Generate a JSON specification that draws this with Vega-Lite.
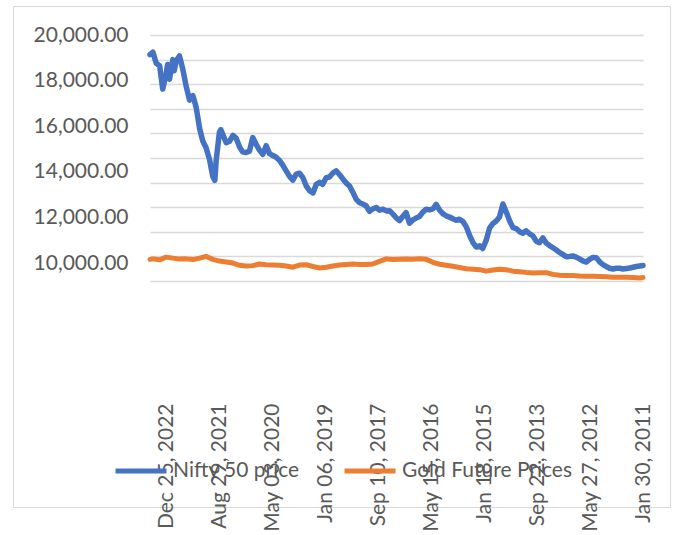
{
  "$schema": "https://vega.github.io/schema/vega-lite/v6.json",
  "width": 657,
  "height": 501,
  "autosize": "none",
  "padding": {"left": 13, "top": 6, "right": 7, "bottom": 28},
  "background": "white",
  "config": {
    "view": {"stroke": "#d9d9d9", "strokeWidth": 1},
    "font": "Lato"
  },
  "datasets": {
    "nifty": [
      {"date": "2023-05-28", "price": 19200}, {"date": "2023-05-01", "price": 19300}, {"date": "2023-04-01", "price": 18850},
      {"date": "2023-03-01", "price": 18750}, {"date": "2023-02-01", "price": 17800}, {"date": "2023-01-01", "price": 18400},
      {"date": "2022-12-18", "price": 18800}, {"date": "2022-12-01", "price": 18200}, {"date": "2022-11-01", "price": 19000},
      {"date": "2022-10-19", "price": 18550}, {"date": "2022-10-01", "price": 18950}, {"date": "2022-09-01", "price": 19150},
      {"date": "2022-08-01", "price": 18600}, {"date": "2022-07-01", "price": 17900}, {"date": "2022-06-01", "price": 17350},
      {"date": "2022-05-01", "price": 17530}, {"date": "2022-04-01", "price": 17050}, {"date": "2022-03-01", "price": 16200},
      {"date": "2022-02-01", "price": 15700}, {"date": "2022-01-01", "price": 15420}, {"date": "2021-12-01", "price": 14950},
      {"date": "2021-11-01", "price": 14250}, {"date": "2021-10-13", "price": 14090}, {"date": "2021-10-01", "price": 14900},
      {"date": "2021-09-01", "price": 16050}, {"date": "2021-08-19", "price": 16150}, {"date": "2021-08-01", "price": 15950},
      {"date": "2021-07-01", "price": 15620}, {"date": "2021-06-01", "price": 15680}, {"date": "2021-05-01", "price": 15920},
      {"date": "2021-04-01", "price": 15800}, {"date": "2021-03-01", "price": 15450}, {"date": "2021-02-01", "price": 15250},
      {"date": "2021-01-01", "price": 15220}, {"date": "2020-12-01", "price": 15280}, {"date": "2020-11-01", "price": 15830},
      {"date": "2020-10-01", "price": 15560}, {"date": "2020-09-01", "price": 15320}, {"date": "2020-08-01", "price": 15150},
      {"date": "2020-07-01", "price": 15500}, {"date": "2020-06-01", "price": 15180}, {"date": "2020-05-01", "price": 15100},
      {"date": "2020-04-01", "price": 15030}, {"date": "2020-03-01", "price": 14900}, {"date": "2020-02-01", "price": 14710},
      {"date": "2020-01-01", "price": 14480}, {"date": "2019-12-01", "price": 14250}, {"date": "2019-11-01", "price": 14100},
      {"date": "2019-10-01", "price": 14340}, {"date": "2019-09-01", "price": 14380}, {"date": "2019-08-01", "price": 14200},
      {"date": "2019-07-01", "price": 13860}, {"date": "2019-06-01", "price": 13670}, {"date": "2019-05-01", "price": 13580},
      {"date": "2019-04-01", "price": 13930}, {"date": "2019-03-01", "price": 14010}, {"date": "2019-02-01", "price": 13930},
      {"date": "2019-01-01", "price": 14200}, {"date": "2018-12-01", "price": 14230}, {"date": "2018-11-01", "price": 14390},
      {"date": "2018-10-01", "price": 14480}, {"date": "2018-09-01", "price": 14330}, {"date": "2018-08-01", "price": 14150},
      {"date": "2018-07-01", "price": 13980}, {"date": "2018-06-01", "price": 13860}, {"date": "2018-05-01", "price": 13600},
      {"date": "2018-04-01", "price": 13320}, {"date": "2018-03-01", "price": 13180}, {"date": "2018-02-01", "price": 13130},
      {"date": "2018-01-01", "price": 13060}, {"date": "2017-12-01", "price": 12830}, {"date": "2017-11-01", "price": 12930},
      {"date": "2017-10-01", "price": 12990}, {"date": "2017-09-01", "price": 12880}, {"date": "2017-08-01", "price": 12920},
      {"date": "2017-07-01", "price": 12850}, {"date": "2017-06-01", "price": 12860}, {"date": "2017-05-01", "price": 12720},
      {"date": "2017-04-01", "price": 12570}, {"date": "2017-03-01", "price": 12460}, {"date": "2017-02-01", "price": 12620},
      {"date": "2017-01-01", "price": 12780}, {"date": "2016-12-01", "price": 12350}, {"date": "2016-11-01", "price": 12480},
      {"date": "2016-10-01", "price": 12560}, {"date": "2016-09-01", "price": 12620}, {"date": "2016-08-01", "price": 12800},
      {"date": "2016-07-01", "price": 12920}, {"date": "2016-06-01", "price": 12890}, {"date": "2016-05-01", "price": 12930},
      {"date": "2016-04-01", "price": 13110}, {"date": "2016-03-01", "price": 12880}, {"date": "2016-02-01", "price": 12740},
      {"date": "2016-01-01", "price": 12650}, {"date": "2015-12-01", "price": 12600}, {"date": "2015-11-01", "price": 12530},
      {"date": "2015-10-01", "price": 12470}, {"date": "2015-09-01", "price": 12510}, {"date": "2015-08-01", "price": 12420},
      {"date": "2015-07-01", "price": 12200}, {"date": "2015-06-01", "price": 11850}, {"date": "2015-05-01", "price": 11560},
      {"date": "2015-04-01", "price": 11380}, {"date": "2015-03-01", "price": 11430}, {"date": "2015-02-01", "price": 11320},
      {"date": "2015-01-01", "price": 11650}, {"date": "2014-12-01", "price": 12150}, {"date": "2014-11-01", "price": 12330},
      {"date": "2014-10-01", "price": 12440}, {"date": "2014-09-01", "price": 12600}, {"date": "2014-08-01", "price": 13130},
      {"date": "2014-07-01", "price": 12800}, {"date": "2014-06-01", "price": 12450}, {"date": "2014-05-01", "price": 12170},
      {"date": "2014-04-01", "price": 12130}, {"date": "2014-03-01", "price": 12000}, {"date": "2014-02-01", "price": 11940},
      {"date": "2014-01-01", "price": 12040}, {"date": "2013-12-01", "price": 11920}, {"date": "2013-11-01", "price": 11840},
      {"date": "2013-10-01", "price": 11620}, {"date": "2013-09-01", "price": 11560}, {"date": "2013-08-01", "price": 11750},
      {"date": "2013-07-01", "price": 11540}, {"date": "2013-06-01", "price": 11440}, {"date": "2013-05-01", "price": 11350},
      {"date": "2013-04-01", "price": 11260}, {"date": "2013-03-01", "price": 11160}, {"date": "2013-02-01", "price": 11080},
      {"date": "2013-01-01", "price": 10990}, {"date": "2012-12-01", "price": 11000}, {"date": "2012-11-01", "price": 11020},
      {"date": "2012-10-01", "price": 10970}, {"date": "2012-09-01", "price": 10900}, {"date": "2012-08-01", "price": 10820},
      {"date": "2012-07-01", "price": 10770}, {"date": "2012-06-01", "price": 10880}, {"date": "2012-05-01", "price": 10960},
      {"date": "2012-04-01", "price": 10950}, {"date": "2012-03-01", "price": 10780}, {"date": "2012-02-01", "price": 10670},
      {"date": "2012-01-01", "price": 10590}, {"date": "2011-12-01", "price": 10520}, {"date": "2011-11-01", "price": 10490},
      {"date": "2011-10-01", "price": 10520}, {"date": "2011-09-01", "price": 10520}, {"date": "2011-08-01", "price": 10490},
      {"date": "2011-07-01", "price": 10510}, {"date": "2011-06-01", "price": 10530}, {"date": "2011-05-01", "price": 10560},
      {"date": "2011-04-01", "price": 10590}, {"date": "2011-03-01", "price": 10610}, {"date": "2011-01-30", "price": 10630}
    ],
    "gold": [
      {"date": "2023-05-28", "price": 10880}, {"date": "2023-05-01", "price": 10900}, {"date": "2023-03-01", "price": 10860},
      {"date": "2023-01-01", "price": 10970}, {"date": "2022-11-01", "price": 10930}, {"date": "2022-09-01", "price": 10890},
      {"date": "2022-07-01", "price": 10900}, {"date": "2022-05-01", "price": 10870}, {"date": "2022-03-01", "price": 10930},
      {"date": "2022-01-01", "price": 11000}, {"date": "2021-11-01", "price": 10880}, {"date": "2021-09-01", "price": 10810},
      {"date": "2021-07-01", "price": 10770}, {"date": "2021-05-01", "price": 10730}, {"date": "2021-03-01", "price": 10640},
      {"date": "2021-01-01", "price": 10610}, {"date": "2020-11-01", "price": 10625}, {"date": "2020-09-01", "price": 10690},
      {"date": "2020-07-01", "price": 10660}, {"date": "2020-05-01", "price": 10650}, {"date": "2020-03-01", "price": 10640},
      {"date": "2020-01-01", "price": 10610}, {"date": "2019-11-01", "price": 10560}, {"date": "2019-09-01", "price": 10650},
      {"date": "2019-07-01", "price": 10660}, {"date": "2019-05-01", "price": 10590}, {"date": "2019-03-01", "price": 10530},
      {"date": "2019-01-01", "price": 10560}, {"date": "2018-11-01", "price": 10610}, {"date": "2018-09-01", "price": 10650},
      {"date": "2018-07-01", "price": 10670}, {"date": "2018-05-01", "price": 10690}, {"date": "2018-03-01", "price": 10670},
      {"date": "2018-01-01", "price": 10670}, {"date": "2017-11-01", "price": 10690}, {"date": "2017-09-01", "price": 10800},
      {"date": "2017-07-01", "price": 10900}, {"date": "2017-05-01", "price": 10870}, {"date": "2017-03-01", "price": 10880},
      {"date": "2017-01-01", "price": 10890}, {"date": "2016-11-01", "price": 10880}, {"date": "2016-09-01", "price": 10900},
      {"date": "2016-07-01", "price": 10880}, {"date": "2016-05-01", "price": 10760}, {"date": "2016-03-01", "price": 10680},
      {"date": "2016-01-01", "price": 10640}, {"date": "2015-11-01", "price": 10600}, {"date": "2015-09-01", "price": 10550},
      {"date": "2015-07-01", "price": 10500}, {"date": "2015-05-01", "price": 10480}, {"date": "2015-03-01", "price": 10460},
      {"date": "2015-01-01", "price": 10400}, {"date": "2014-11-01", "price": 10450}, {"date": "2014-09-01", "price": 10480},
      {"date": "2014-07-01", "price": 10460}, {"date": "2014-05-01", "price": 10400}, {"date": "2014-03-01", "price": 10380},
      {"date": "2014-01-01", "price": 10350}, {"date": "2013-11-01", "price": 10330}, {"date": "2013-09-01", "price": 10340},
      {"date": "2013-07-01", "price": 10340}, {"date": "2013-05-01", "price": 10270}, {"date": "2013-03-01", "price": 10230},
      {"date": "2013-01-01", "price": 10220}, {"date": "2012-11-01", "price": 10220}, {"date": "2012-09-01", "price": 10200},
      {"date": "2012-07-01", "price": 10190}, {"date": "2012-05-01", "price": 10190}, {"date": "2012-03-01", "price": 10180},
      {"date": "2012-01-01", "price": 10170}, {"date": "2011-11-01", "price": 10150}, {"date": "2011-09-01", "price": 10150},
      {"date": "2011-07-01", "price": 10150}, {"date": "2011-05-01", "price": 10140}, {"date": "2011-03-01", "price": 10125},
      {"date": "2011-01-30", "price": 10140}
    ]
  },
  "layer": [
    {
      "layer": [
        {
          "data": {"name": "nifty"},
          "mark": {"type": "line", "strokeWidth": 5.5, "strokeCap": "round", "strokeJoin": "round"},
          "encoding": {
            "x": {
              "field": "date", "type": "temporal",
              "scale": {"type": "utc", "domain": [{"year": 2011, "month": 1, "date": 30, "utc": true}, {"year": 2023, "month": 5, "date": 28, "utc": true}], "range": [630, 137]},
              "axis": {
                "orient": "bottom", "title": null,
                "values": [
                  {"year": 2022, "month": 12, "date": 25, "utc": true},
                  {"year": 2021, "month": 8, "date": 29, "utc": true},
                  {"year": 2020, "month": 5, "date": 3, "utc": true},
                  {"year": 2019, "month": 1, "date": 6, "utc": true},
                  {"year": 2017, "month": 9, "date": 10, "utc": true},
                  {"year": 2016, "month": 5, "date": 15, "utc": true},
                  {"year": 2015, "month": 1, "date": 18, "utc": true},
                  {"year": 2013, "month": 9, "date": 22, "utc": true},
                  {"year": 2012, "month": 5, "date": 27, "utc": true},
                  {"year": 2011, "month": 1, "date": 30, "utc": true}
                ],
                "labelExpr": "utcFormat(datum.value, '%b %d, %Y')",
                "labelAngle": 270, "labelAlign": "right", "labelBaseline": "middle",
                "labelPadding": 0, "ticks": false, "tickSize": 0, "domain": false, "grid": false,
                "offset": -104, "labelFont": "Lato", "labelFontSize": 21, "labelColor": "#595959",
                "labelOverlap": false, "labelFlush": false, "labelBound": false, "labelLimit": 300
              }
            },
            "y": {
              "field": "price", "type": "quantitative",
              "scale": {"domain": [10000, 20000], "range": [275, 29], "zero": false, "nice": false},
              "axis": {
                "orient": "left", "title": null,
                "values": [10000, 11000, 12000, 13000, 14000, 15000, 16000, 17000, 18000, 19000, 20000],
                "grid": true, "gridColor": "#d9d9d9", "gridWidth": 1.5,
                "labels": false, "ticks": false, "domain": false
              }
            },
            "color": {
              "datum": "Nifty 50 price", "type": "nominal",
              "scale": {"domain": ["Nifty 50 price", "Gold Future Prices"], "range": ["#4472C4", "#ED7D31"]},
              "legend": {
                "orient": "none", "legendX": 100, "legendY": 437, "direction": "horizontal", "title": null,
                "symbolType": "stroke", "symbolSize": 2601, "symbolStrokeWidth": 5,
                "labelFont": "Lato", "labelFontSize": 21, "labelColor": "#595959",
                "labelOffset": 4, "columnPadding": 34, "labelLimit": 400, "padding": 0
              }
            }
          }
        },
        {
          "data": {"name": "gold"},
          "mark": {"type": "line", "strokeWidth": 5, "strokeCap": "round", "strokeJoin": "round"},
          "encoding": {
            "x": {"field": "date", "type": "temporal"},
            "y": {"field": "price", "type": "quantitative"},
            "color": {"datum": "Gold Future Prices", "type": "nominal"}
          }
        }
      ]
    },
    {
      "data": {"name": "nifty"},
      "mark": {"type": "point", "opacity": 0},
      "encoding": {
        "x": {"field": "date", "type": "temporal"},
        "y": {
          "field": "price", "type": "quantitative",
          "scale": {"domain": [10000, 20000], "range": [257, 29], "zero": false, "nice": false},
          "axis": {
            "orient": "left", "title": null,
            "values": [10000, 12000, 14000, 16000, 18000, 20000],
            "format": ",.2f", "grid": false, "ticks": false, "tickSize": 0, "domain": false,
            "offset": -115, "labelPadding": 0,
            "labelFont": "Lato", "labelFontSize": 21, "labelColor": "#595959"
          }
        }
      }
    }
  ],
  "resolve": {"scale": {"y": "independent"}, "axis": {"y": "independent"}}
}
